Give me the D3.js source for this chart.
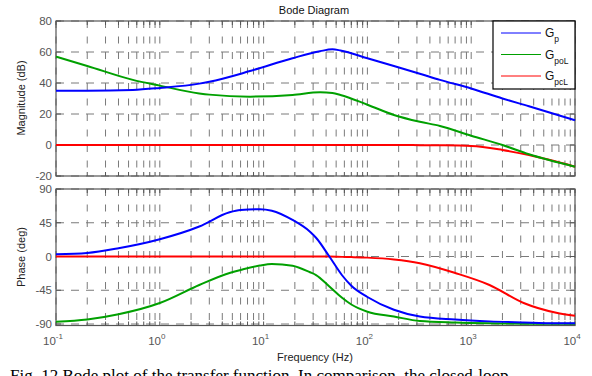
<!DOCTYPE html>
<html>
<head>
<meta charset="utf-8">
<script src="https://cdn.jsdelivr.net/npm/d3@7.9.0/dist/d3.min.js"></script>
<style>
  body { margin: 0; background: #fff; }
  svg { display: block; }
  text { font-family: "Liberation Sans", Arial, sans-serif; }
</style>
</head>
<body>
<svg id="chart" width="592" height="376"></svg>
<script>
// frequency samples (Hz) and values
const magFreq = [0.1, 0.2, 0.55, 1, 2.4, 3, 7.4, 19, 35, 46, 55, 100, 180, 320, 500, 1000, 2000, 3600, 10000];
const magGp   = [35, 35, 35.5, 36.8, 39.6, 40.8, 47.7, 56, 60.5, 61.7, 61, 56, 51, 46, 42, 36.5, 30, 25, 16];
const magGpoL = [57, 51, 42, 38.3, 33.3, 32.5, 31.2, 32.3, 34, 33.5, 32.3, 26, 19.4, 15, 12.3, 6, 0, -6, -14];
const magGpcL = [0, 0, 0, 0, 0, 0, 0, 0, 0, 0, 0, 0, 0, -0.1, -0.2, -0.6, -3.2, -6.5, -14];

const phFreq  = [0.1, 0.2, 0.4, 1, 2.4, 4.7, 6, 9.2, 12, 19, 28, 32, 43, 57, 70, 100, 180, 320, 700, 1500, 3200, 6600, 10000];
const phGp    = [3, 4.7, 11, 23, 40, 59, 62, 63, 61, 48.7, 33, 25, 0, -25, -39, -54, -71, -80, -84, -86.5, -88, -89, -89];
const phGpoL  = [-87, -84, -77, -62, -38, -22, -18, -12, -10, -12.3, -21, -24.7, -40, -55, -64, -73.6, -80, -86, -88, -89, -89.5, -89.5, -89.5];
const phGpcL  = [0, 0, 0, 0, 0, 0, 0, 0, 0, 0, 0, 0, 0, -0.5, -0.8, -1.5, -4, -9, -22, -38, -62, -75, -79];

const magTicks = [-20, 0, 20, 40, 60, 80];
const phTicks = [-90, -45, 0, 45, 90];
const decades = [-1, 0, 1, 2, 3, 4];

const seriesNames = ["p", "poL", "pcL"];
const seriesColors = ["#0000ff", "#00a000", "#ff0000"];

const svg = d3.select("#chart");
const left = 56, right = 575;

const x = d3.scaleLog().domain([0.1, 10000]).range([left, right]);
const yMag = d3.scaleLinear().domain([-20, 80]).range([176, 21]);
const yPh = d3.scaleLinear().domain([-92, 90]).range([325.5, 189]);

// minor tick positions for log axis
const minor = [];
for (let d = -1; d < 4; d++) {
  for (let k = 1; k < 10; k++) minor.push(k * Math.pow(10, d));
}
minor.push(10000);

function panel(y, ticks, label, labelY) {
  const [y0, y1] = y.range();
  const g = svg.append("g");

  // vertical grid
  g.selectAll("line.vg").data(minor).enter().append("line")
    .attr("x1", d => x(d)).attr("x2", d => x(d))
    .attr("y1", y1).attr("y2", y0)
    .attr("stroke", "#7a7a7a").attr("stroke-width", 1)
    .attr("stroke-dasharray", "7,8.5");

  // horizontal grid
  g.selectAll("line.hg").data(ticks).enter().append("line")
    .attr("x1", left).attr("x2", right)
    .attr("y1", d => y(d)).attr("y2", d => y(d))
    .attr("stroke", "#7a7a7a").attr("stroke-width", 1)
    .attr("stroke-dasharray", "8,7");

  // ticks (inward) on top and bottom
  g.selectAll("line.tb").data(minor).enter().append("line")
    .attr("x1", d => x(d)).attr("x2", d => x(d))
    .attr("y1", y0).attr("y2", y0 - 4)
    .attr("stroke", "#555");
  g.selectAll("line.tt").data(minor).enter().append("line")
    .attr("x1", d => x(d)).attr("x2", d => x(d))
    .attr("y1", y1).attr("y2", y1 + 4)
    .attr("stroke", "#555");
  g.selectAll("line.tl").data(ticks).enter().append("line")
    .attr("x1", left).attr("x2", left + 5)
    .attr("y1", d => y(d)).attr("y2", d => y(d))
    .attr("stroke", "#555");
  g.selectAll("line.tr").data(ticks).enter().append("line")
    .attr("x1", right).attr("x2", right - 5)
    .attr("y1", d => y(d)).attr("y2", d => y(d))
    .attr("stroke", "#555");

  // frame
  g.append("rect")
    .attr("x", left).attr("y", y1)
    .attr("width", right - left).attr("height", y0 - y1)
    .attr("fill", "none").attr("stroke", "#555").attr("stroke-width", 1.2);

  // y tick labels
  g.selectAll("text.yl").data(ticks).enter().append("text")
    .attr("x", left - 4).attr("y", d => y(d) + 4)
    .attr("text-anchor", "end")
    .style("font-size", "11.5px").style("fill", "#555")
    .text(d => d);

  svg.append("text")
    .attr("transform", `translate(25,${labelY}) rotate(-90)`)
    .attr("text-anchor", "middle")
    .style("font-size", "11px").style("fill", "#222")
    .text(label);
}

panel(yMag, magTicks, "Magnitude (dB)", 98);
panel(yPh, phTicks, "Phase (deg)", 257);

function drawLine(freqs, vals, y, color) {
  const line = d3.line()
    .x((d, i) => x(freqs[i]))
    .y(d => y(d))
    .curve(d3.curveMonotoneX);
  svg.append("path")
    .datum(vals)
    .attr("d", line)
    .attr("fill", "none")
    .attr("stroke", color)
    .attr("stroke-width", 2);
}

drawLine(magFreq, magGpcL, yMag, seriesColors[2]);
drawLine(magFreq, magGpoL, yMag, seriesColors[1]);
drawLine(magFreq, magGp, yMag, seriesColors[0]);
drawLine(phFreq, phGpcL, yPh, seriesColors[2]);
drawLine(phFreq, phGpoL, yPh, seriesColors[1]);
drawLine(phFreq, phGp, yPh, seriesColors[0]);

// x tick labels 10^n
const xl = svg.selectAll("text.xl").data(decades).enter().append("text")
  .attr("x", d => x(Math.pow(10, d)) - 3)
  .attr("y", 345)
  .attr("text-anchor", "middle")
  .style("font-size", "11.5px").style("fill", "#555");
xl.append("tspan").text("10");
xl.append("tspan").attr("dy", -6).style("font-size", "8px").text(d => d);

svg.append("text")
  .attr("x", 315).attr("y", 361)
  .attr("text-anchor", "middle")
  .style("font-size", "11px").style("fill", "#222")
  .text("Frequency  (Hz)");

svg.append("text")
  .attr("x", 314).attr("y", 14)
  .attr("text-anchor", "middle")
  .style("font-size", "11px").style("fill", "#111")
  .text("Bode Diagram");

// legend
const lg = svg.append("g");
lg.append("rect")
  .attr("x", 493).attr("y", 21).attr("width", 82).attr("height", 68)
  .attr("fill", "#fff").attr("stroke", "#000").attr("stroke-width", 1.2);
const ly = d3.scalePoint().domain(seriesNames).range([33, 76]);
seriesNames.forEach((name, i) => {
  lg.append("line")
    .attr("x1", 501).attr("x2", 541)
    .attr("y1", ly(name)).attr("y2", ly(name))
    .attr("stroke", seriesColors[i]).attr("stroke-width", 1);
  const t = lg.append("text")
    .attr("x", 545).attr("y", ly(name) + 4)
    .style("font-size", "12px").style("fill", "#111");
  t.append("tspan").text("G");
  t.append("tspan").attr("dy", 5).style("font-size", "8.5px").text(name);
});

// caption (cut off at the bottom of the image, as in the source)
svg.append("text")
  .attr("x", 10).attr("y", 381)
  .style("font-family", "'Liberation Serif', 'Times New Roman', serif")
  .style("font-size", "17px").style("fill", "#000")
  .text("Fig. 12 Bode plot of the transfer function. In comparison, the closed-loop");
</script>
</body>
</html>
